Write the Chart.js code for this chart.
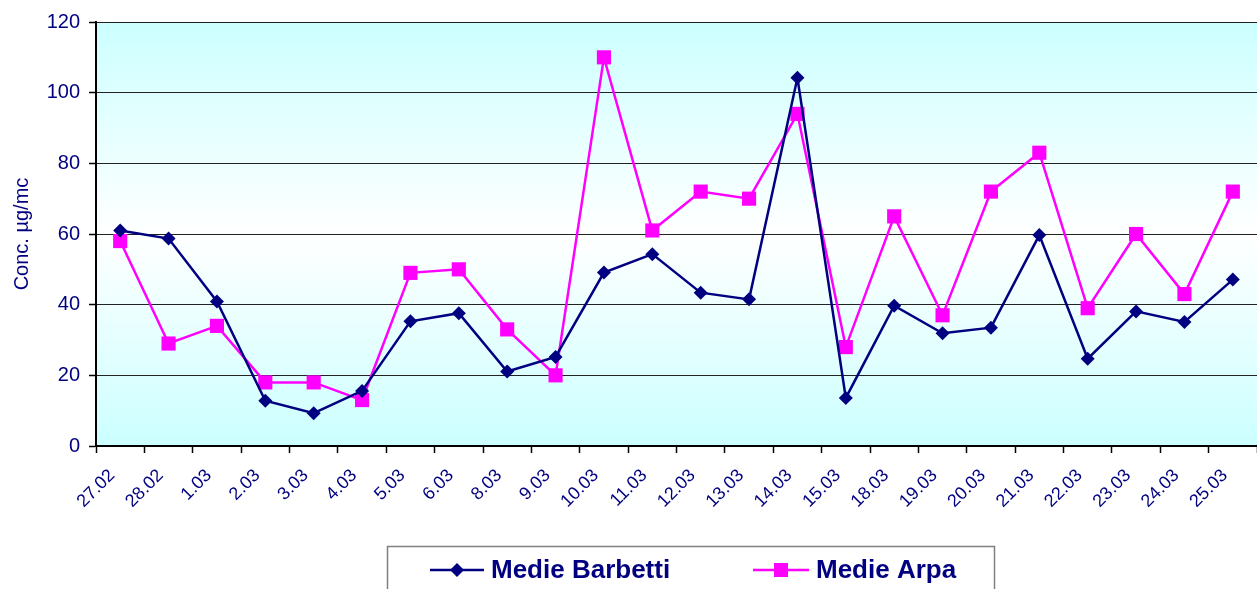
<!DOCTYPE html>
<html>
<head>
<meta charset="utf-8">
<script src="https://cdn.jsdelivr.net/npm/chart.js@4/dist/chart.umd.min.js"></script>
<style>
  html, body { margin: 0; padding: 0; background: #ffffff; }
  #wrap { width: 1257px; height: 589px; position: relative; }
</style>
</head>
<body>
<div id="wrap"><canvas id="c" width="1257" height="589"></canvas></div>
<script>
const categories = ["27.02","28.02","1.03","2.03","3.03","4.03","5.03","6.03","8.03","9.03","10.03","11.03","12.03","13.03","14.03","15.03","18.03","19.03","20.03","21.03","22.03","23.03","24.03","25.03"];
const medieBarbetti = [61, 58.7, 40.9, 12.8, 9.3, 15.6, 35.3, 37.6, 21.1, 25.2, 49.1, 54.3, 43.4, 41.5, 104.2, 13.6, 39.7, 31.9, 33.5, 59.7, 24.7, 38.1, 35.1, 47.1];
const medieArpa = [58, 29, 34, 18, 18, 13, 49, 50, 33, 20, 110, 61, 72, 70, 94, 28, 65, 37, 72, 83, 39, 60, 43, 72];
const yTicks = [0, 20, 40, 60, 80, 100, 120];
const yTitle = "Conc. µg/mc";

const FONT = "'Liberation Sans', Arial, sans-serif";
const NAVY = "#000080";
const MAGENTA = "#FF00FF";

const bgPlugin = {
  id: 'bg',
  beforeDraw(chart) {
    const a = chart.chartArea, ctx = chart.ctx;
    const g = ctx.createLinearGradient(0, a.top, 0, a.bottom);
    g.addColorStop(0, '#CCFFFF');
    g.addColorStop(0.5, '#FFFFFF');
    g.addColorStop(1, '#CCFFFF');
    ctx.save();
    ctx.fillStyle = g;
    ctx.fillRect(a.left, a.top, a.right - a.left, a.bottom - a.top);
    ctx.restore();
  }
};

const legendPlugin = {
  id: 'customLegend',
  afterDraw(chart) {
    const ctx = chart.ctx;
    ctx.save();
    ctx.strokeStyle = '#808080';
    ctx.lineWidth = 1.5;
    ctx.strokeRect(387.5, 546.5, 607, 60);
    const items = [
      { ds: chart.data.datasets[0], x0: 430, x1: 484, tx: 491 },
      { ds: chart.data.datasets[1], x0: 753, x1: 809, tx: 816 }
    ];
    const y = 570;
    items.forEach(it => {
      ctx.strokeStyle = it.ds.borderColor;
      ctx.lineWidth = 2.5;
      ctx.beginPath();
      ctx.moveTo(it.x0, y);
      ctx.lineTo(it.x1, y);
      ctx.stroke();
      const cx = (it.x0 + it.x1) / 2;
      ctx.fillStyle = it.ds.pointBackgroundColor;
      if (it.ds.pointStyle === 'rectRot') {
        ctx.beginPath();
        ctx.moveTo(cx, y - 7); ctx.lineTo(cx + 7, y); ctx.lineTo(cx, y + 7); ctx.lineTo(cx - 7, y);
        ctx.closePath(); ctx.fill();
      } else {
        ctx.fillRect(cx - 7, y - 7, 14, 14);
      }
      ctx.fillStyle = NAVY;
      ctx.font = "bold 26px " + FONT;
      ctx.textBaseline = 'middle';
      ctx.textAlign = 'left';
      ctx.fillText(it.ds.label, it.tx, y + 1);
    });
    ctx.restore();
  }
};

new Chart(document.getElementById('c'), {
  type: 'line',
  data: {
    labels: categories,
    datasets: [
      {
        label: 'Medie Barbetti',
        data: medieBarbetti,
        borderColor: NAVY,
        backgroundColor: NAVY,
        pointBackgroundColor: NAVY,
        pointBorderColor: NAVY,
        pointStyle: 'rectRot',
        pointRadius: 7,
        pointBorderWidth: 0,
        borderWidth: 2.5,
        tension: 0
      },
      {
        label: 'Medie Arpa',
        data: medieArpa,
        borderColor: MAGENTA,
        backgroundColor: MAGENTA,
        pointBackgroundColor: MAGENTA,
        pointBorderColor: MAGENTA,
        pointStyle: 'rect',
        pointRadius: 10,
        pointBorderWidth: 0,
        borderWidth: 2.5,
        tension: 0
      }
    ]
  },
  options: {
    responsive: false,
    animation: false,
    devicePixelRatio: 1,
    layout: { autoPadding: false, padding: { top: 22, right: 0, bottom: 0, left: 0 } },
    plugins: {
      legend: { display: false },
      tooltip: { enabled: false }
    },
    scales: {
      x: {
        offset: true,
        grid: {
          offset: true,
          drawOnChartArea: false,
          drawTicks: true,
          tickLength: 7,
          tickColor: '#000000',
          tickWidth: 1.5
        },
        border: { display: true, color: '#000000', width: 2 },
        ticks: {
          autoSkip: false,
          maxRotation: 45,
          minRotation: 45,
          padding: 12,
          labelOffset: -8,
          color: NAVY,
          font: { family: FONT, size: 18 }
        },
        afterFit(scale) { scale.height = 143; scale.paddingRight = 0; scale.paddingLeft = 0; }
      },
      y: {
        min: 0,
        max: 120,
        afterBuildTicks(scale) { scale.ticks = yTicks.map(v => ({ value: v })); },
        grid: {
          drawOnChartArea: true,
          color: '#222222',
          lineWidth: 1,
          drawTicks: true,
          tickLength: 7,
          tickColor: '#000000',
          tickWidth: 1.5
        },
        border: { display: true, color: '#000000', width: 2 },
        ticks: {
          padding: 9,
          color: NAVY,
          font: { family: FONT, size: 20 }
        },
        title: {
          display: true,
          text: yTitle,
          color: NAVY,
          font: { family: FONT, size: 20 },
          padding: { top: 10, bottom: 0 }
        },
        afterFit(scale) { scale.width = 96; }
      }
    }
  },
  plugins: [bgPlugin, legendPlugin]
});
</script>
</body>
</html>
